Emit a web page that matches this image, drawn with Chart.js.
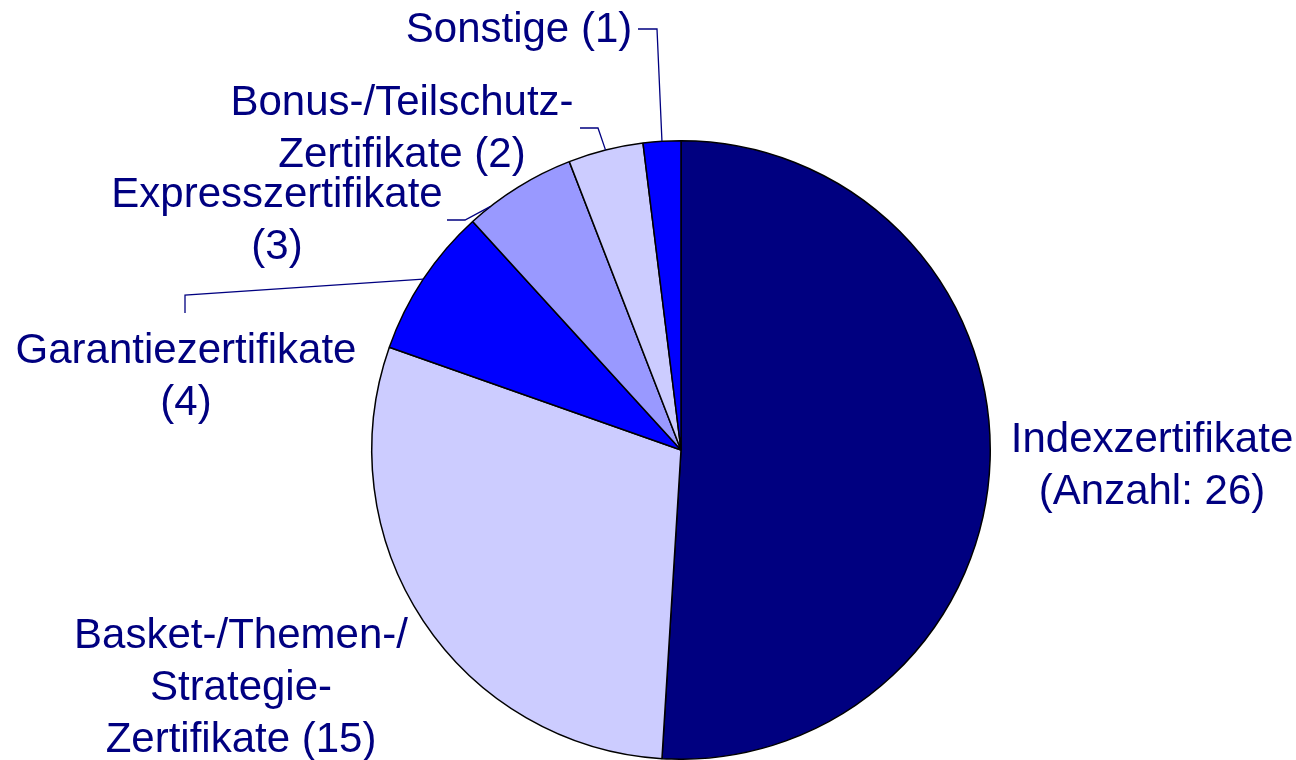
<!DOCTYPE html>
<html><head><meta charset="utf-8">
<script src="https://cdn.jsdelivr.net/npm/chart.js@4.4.1/dist/chart.umd.min.js"></script>
<style>html,body{margin:0;padding:0;background:#fff;}#wrap{width:1296px;height:760px;}</style>
</head><body><div id="wrap"><canvas id="c" width="1296" height="760"></canvas></div>
<script>
const categories = ["Indexzertifikate", "Basket-/Themen-/Strategie-Zertifikate", "Garantiezertifikate", "Expresszertifikate", "Bonus-/Teilschutz-Zertifikate", "Sonstige"];
const counts = [26, 15, 4, 3, 2, 1];
const labelTexts = [
  ["Indexzertifikate", "(Anzahl: 26)"],
  ["Basket-/Themen-/", "Strategie-", "Zertifikate (15)"],
  ["Garantiezertifikate", "(4)"],
  ["Expresszertifikate", "(3)"],
  ["Bonus-/Teilschutz-", "Zertifikate (2)"],
  ["Sonstige (1)"]
];
const colors = ["#000080", "#CCCCFF", "#0000FF", "#9999FF", "#CCCCFF", "#0000FF"];

// layout (offsets relative to pie centre, px)
const labelLayout = [
  {dx: 471, dy: 2},
  {dx: -440, dy: 198},
  {dx: -495, dy: -87},
  {dx: -404, dy: -243},
  {dx: -279, dy: -335},
  {dx: -162, dy: -408}
];
const leaderLayout = [
  null,
  null,
  {f: 0.5, pts: [[-496, -155], [-496, -137]]},
  {f: 0.2, pts: [[-216, -230], [-234, -230]]},
  {f: 0.5, pts: [[-83, -322], [-101, -322]]},
  {f: 0.5, pts: [[-24, -421], [-43, -421]]}
];
const LINE_H = 52;

const labelPlugin = {
  id: 'labels',
  afterDatasetsDraw(chart) {
    const ctx = chart.ctx;
    const meta = chart.getDatasetMeta(0);
    ctx.save();
    meta.data.forEach((arc, i) => {
      const cx = arc.x, cy = arc.y, r = arc.outerRadius;
      const L = leaderLayout[i];
      if (L) {
        const a = arc.startAngle + (arc.endAngle - arc.startAngle) * L.f;
        ctx.beginPath();
        ctx.moveTo(cx + r * Math.cos(a), cy + r * Math.sin(a));
        L.pts.forEach(p => ctx.lineTo(cx + p[0], cy + p[1]));
        ctx.strokeStyle = '#000080';
        ctx.lineWidth = 1.3;
        ctx.stroke();
      }
      const pos = labelLayout[i];
      ctx.fillStyle = '#000080';
      ctx.font = '42px "Liberation Sans", Arial, sans-serif';
      ctx.textAlign = 'center';
      ctx.textBaseline = 'alphabetic';
      labelTexts[i].forEach((t, k) => {
        ctx.fillText(t, cx + pos.dx, cy + pos.dy + k * LINE_H);
      });
    });
    ctx.restore();
  }
};

new Chart(document.getElementById('c'), {
  type: 'pie',
  data: {
    labels: categories,
    datasets: [{
      data: counts,
      backgroundColor: colors,
      borderColor: '#000000',
      borderWidth: 1.5,
      borderAlign: 'center'
    }]
  },
  options: {
    responsive: false,
    animation: false,
    layout: {padding: {left: 370, right: 304, top: 140, bottom: 0}},
    plugins: {legend: {display: false}, tooltip: {enabled: false}},
    events: []
  },
  plugins: [labelPlugin]
});
</script>
</body></html>
